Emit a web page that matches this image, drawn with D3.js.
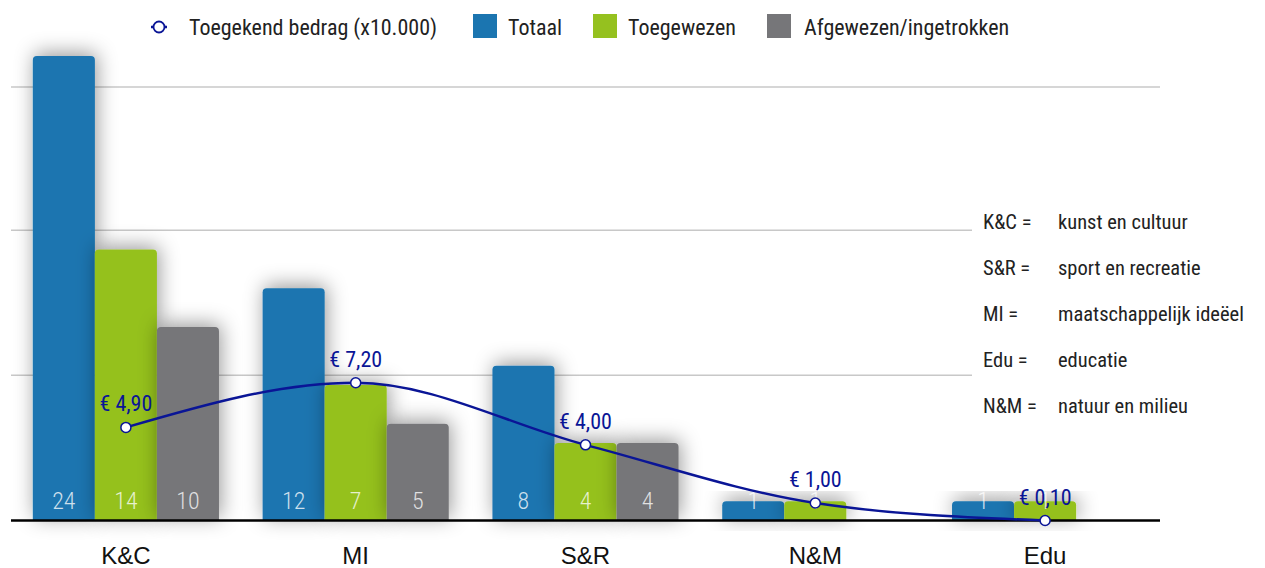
<!DOCTYPE html>
<html><head><meta charset="utf-8">
<script src="https://cdn.jsdelivr.net/npm/d3@7"></script>
<style>
html,body{margin:0;padding:0;background:#fff;}
svg{display:block;font-family:"Roboto Condensed","Liberation Sans Narrow","DejaVu Sans Condensed",Roboto,sans-serif;}
</style></head>
<body><svg id="c" width="1265" height="568"></svg>
<script>
const categories = ["K&C","MI","S&R","N&M","Edu"];
const seriesNames = ["Totaal","Toegewezen","Afgewezen/ingetrokken"];
const totaal = [24,12,8,1,1];
const toegewezen = [14,7,4,1,1];
const afgewezen = [10,5,4,0,0];
const bedrag = [4.90,7.20,4.00,1.00,0.10];
const bedragLabels = ["€ 4,90","€ 7,20","€ 4,00","€ 1,00","€ 0,10"];
const gridTicks = [7.5,15,22.4];
const lineName = "Toegekend bedrag (x10.000)";
const abbrevs = ["K&C =","S&R =","MI =","Edu =","N&M ="];
const abbrevMeanings = ["kunst en cultuur","sport en recreatie","maatschappelijk ideëel","educatie","natuur en milieu"];

const colors = ["#1b75b0","#95c11f","#767679"];
const lineColor = "#0a1596";
const series = [totaal, toegewezen, afgewezen];

const svg = d3.select("#c");
const defs = svg.append("defs");
const f = defs.append("filter").attr("id","sh").attr("x","-50%").attr("y","-50%").attr("width","200%").attr("height","200%");
f.append("feDropShadow").attr("dx",2).attr("dy",-3).attr("stdDeviation",10).attr("flood-color","#000").attr("flood-opacity",0.4);

const x0 = d3.scaleBand().domain(categories).range([11,1160]).paddingInner(0.19).paddingOuter(0.095);
const x1 = d3.scaleBand().domain(seriesNames).range([0,x0.bandwidth()]);
const y = d3.scaleLinear().domain([0,24]).range([520.5,56]);
const yLine = d3.scaleLinear().domain([0.1,24.1]).range([520.5,55]);

// gridlines
svg.append("g").selectAll("line").data(gridTicks).join("line")
  .attr("x1",11).attr("x2",1160).attr("y1",d=>y(d)).attr("y2",d=>y(d))
  .attr("stroke","#c8c8c8").attr("stroke-width",1.5);

// bars
const r = 4;
function topRounded(x,yt,w,h){
  if(h<=0) return "";
  const rr = Math.min(r,h,w/2);
  return `M${x},${yt+h}V${yt+rr}Q${x},${yt} ${x+rr},${yt}H${x+w-rr}Q${x+w},${yt} ${x+w},${yt+rr}V${yt+h}Z`;
}
const barG = svg.append("g");
categories.forEach((c,i)=>{
  series.forEach((s,j)=>{
    const v = s[i];
    const bx = x0(c)+x1(seriesNames[j]);
    barG.append("path")
      .attr("d", topRounded(bx, y(v), x1.bandwidth(), y(0)-y(v)))
      .attr("fill", colors[j]).attr("filter","url(#sh)");
  });
});
// value labels in bars
const valG = svg.append("g");
categories.forEach((c,i)=>{
  series.forEach((s,j)=>{
    valG.append("text")
      .attr("x", x0(c)+x1(seriesNames[j])+x1.bandwidth()/2)
      .attr("y", 509)
      .attr("text-anchor","middle")
      .attr("font-size",24).attr("font-weight",300)
      .attr("fill","#fff").attr("fill-opacity",0.78)
      .text(s[i]);
  });
});

// right explanation box (covers gridlines)
svg.append("rect").attr("x",972).attr("y",195).attr("width",293).attr("height",235).attr("fill","#fff");
const exG = svg.append("g").attr("font-size",20.5).attr("fill","#222");
abbrevs.forEach((a,i)=>{
  exG.append("text").attr("x",983).attr("y",229+i*46).text(a);
  exG.append("text").attr("x",1058).attr("y",229+i*46).text(abbrevMeanings[i]);
});

// baseline axis
svg.append("line").attr("x1",11).attr("x2",1160).attr("y1",y(0)).attr("y2",y(0))
  .attr("stroke","#000").attr("stroke-width",2.5);

// category labels
const xAxis = d3.axisBottom(x0).tickSize(0).tickPadding(0);
const ax = svg.append("g").attr("transform",`translate(0,${y(0)})`).call(xAxis);
ax.select(".domain").remove();
ax.selectAll("text").attr("font-size",24).attr("font-weight",500).attr("fill","#111")
  .attr("dy",0).attr("y",43).attr("font-family",null);

// line
const cx = (c)=>x0(c)+x0.bandwidth()/2;
const line = d3.line().x((d,i)=>cx(categories[i])).y(d=>yLine(d)).curve(d3.curveMonotoneX);
svg.append("path").datum(bedrag).attr("d",line).attr("fill","none")
  .attr("stroke",lineColor).attr("stroke-width",2.5);
svg.append("g").selectAll("circle").data(bedrag).join("circle")
  .attr("cx",(d,i)=>cx(categories[i])).attr("cy",d=>yLine(d)).attr("r",5)
  .attr("fill","#fff").attr("stroke",lineColor).attr("stroke-width",1.5);
svg.append("g").selectAll("text").data(bedrag).join("text")
  .attr("x",(d,i)=>cx(categories[i])).attr("y",d=>yLine(d)-16)
  .attr("text-anchor","middle").attr("font-size",22).attr("fill",lineColor)
  .text((d,i)=>bedragLabels[i]);

// legend
const lg = svg.append("g").attr("font-size",22).attr("fill","#222");
lg.append("line").attr("x1",151).attr("x2",167).attr("y1",27).attr("y2",27).attr("stroke",lineColor).attr("stroke-width",2.5);
lg.append("circle").attr("cx",159).attr("cy",27).attr("r",5.5).attr("fill","#fff").attr("stroke",lineColor).attr("stroke-width",1.8);
lg.append("text").attr("x",189).attr("y",35).text(lineName);
const legItems = [{x:473,tx:508},{x:593,tx:628},{x:767,tx:804}];
seriesNames.forEach((n,j)=>{
  lg.append("rect").attr("x",legItems[j].x).attr("y",14).attr("width",24).attr("height",24).attr("fill",colors[j]);
  lg.append("text").attr("x",legItems[j].tx).attr("y",35).text(n);
});
</script></body></html>
